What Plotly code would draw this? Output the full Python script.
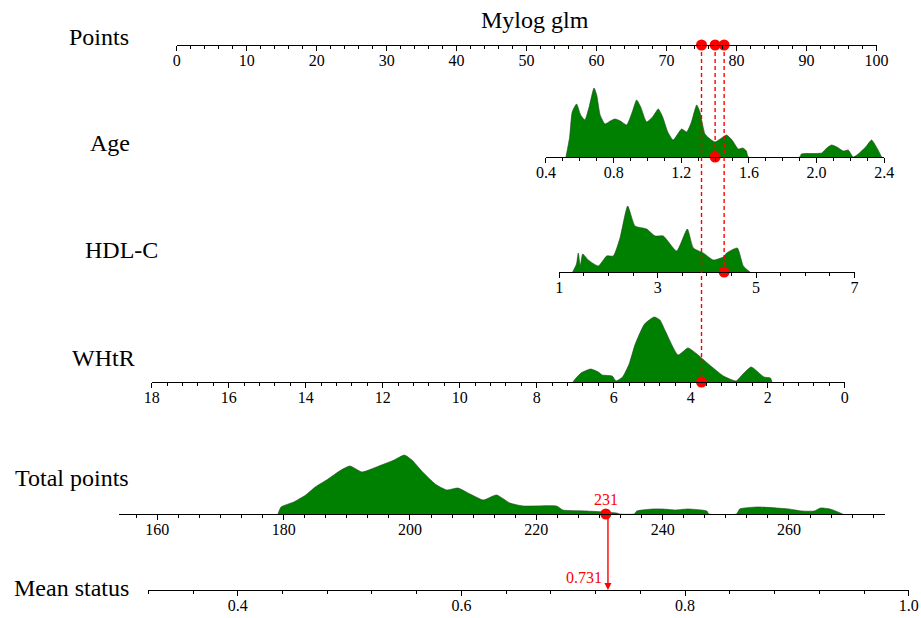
import plotly.graph_objects as go

# ---------------- data ----------------
title_text = "Mylog glm"
row_labels = ["Points", "Age", "HDL-C", "WHtR", "Total points", "Mean status"]

# nomogram scales: variable range <-> points range
points_range = [0, 100]
age_range = [0.4, 2.4];   age_points = [52.77, 101.11]
hdl_range = [1, 7];       hdl_points = [54.67, 96.86]
whtr_range = [18, 0];     whtr_points = [-3.57, 95.46]
total_range = [154.0, 275.2]
mean_range = [0.32, 1.0]

# densities (relative heights)
age_x = [0.518, 0.54, 0.555, 0.581, 0.605, 0.630, 0.655, 0.684, 0.70, 0.72, 0.749, 0.78, 0.808, 0.84,
         0.877, 0.91, 0.936, 0.96, 0.995, 1.03, 1.064, 1.09, 1.12, 1.152, 1.202, 1.232, 1.26, 1.291,
         1.31, 1.340, 1.37, 1.399, 1.43, 1.468, 1.50, 1.537, 1.564, 1.585, 1.596, 1.901, 1.91, 2.03,
         2.06, 2.088, 2.12, 2.157, 2.187, 2.216, 2.246, 2.29, 2.325, 2.36, 2.384]
age_d = [0, 20, 45, 53, 42, 37, 50, 69, 62, 42, 33, 36, 38, 36,
         32, 45, 57, 50, 35, 40, 48, 40, 25, 17, 28, 25, 35, 52,
         45, 23, 18, 15, 18, 22, 17, 8, 9, 6, 0, 0, 3, 4,
         9, 12, 10, 6, 7, 0, 3, 10, 17, 8, 0]

hdl_x = [1.272, 1.35, 1.386, 1.427, 1.476, 1.589, 1.793, 1.963, 2.098, 2.234, 2.390, 2.539, 2.776,
         2.945, 3.114, 3.386, 3.602, 3.724, 3.927, 4.130, 4.333, 4.402, 4.618, 4.740, 4.876]
hdl_d = [0, 8, 19, 6, 18, 12, 6, 16, 16, 34, 66, 46, 43,
         36, 36, 21, 43, 24, 19, 12, 15, 19, 24, 6, 0]

whtr_x = [7.06, 7.0, 6.85, 6.60, 6.40, 6.30, 6.04, 5.94, 5.77, 5.60, 5.45, 5.20, 4.95, 4.80, 4.66,
          4.33, 4.07, 3.81, 3.48, 3.15, 2.82, 2.69, 2.43, 2.10, 1.93, 1.89]
whtr_d = [0, 3, 9, 13, 10, 7, 6, 1, 5, 18, 37, 58, 65, 62, 51,
          27, 34, 27, 16, 6, 1, 6, 15, 5, 4, 0]

total_x = [179.1, 179.6, 181.6, 183.5, 185.0, 186.8, 189.1, 190.5, 192.4, 194.7, 197.5, 199.1, 200.3,
           202.0, 204.0, 205.8, 207.6, 209.5, 211.6, 213.7, 215.8, 217.9, 223.2, 224.2, 227.9, 232.7,
           233.2, 235.5, 235.9, 238.5, 240.0, 242.0, 244.0, 247.0, 247.3, 251.7, 252.2, 255.0, 258.0,
           260.0, 262.0, 264.0, 265.0, 266.5, 268.5]
total_d = [0, 7, 12, 19, 27, 34, 44, 48, 42, 47, 54, 59, 54,
           42, 30, 24, 26, 20, 14, 19, 11, 8, 8, 4, 3, 1,
           0, 0, 3, 5, 5, 4, 5, 3, 0, 0, 5, 7, 6,
           5, 3, 3, 6, 5, 0]

# patient values
age_val = 1.4
hdl_val = 4.35
whtr_val = 3.72
total_val = 231
mean_val = 0.731

# ---------------- layout helpers ----------------
W, H = 921, 618
PX0, PX1 = 176.7, 876.5   # pixel ends of Points axis (0 and 100)
FONT = "Liberation Serif"
RED = "#ff0000"
GREEN = "#008000"


def pts_px(p):
    return PX0 + (p - points_range[0]) / (points_range[1] - points_range[0]) * (PX1 - PX0)


def to_points(v, vr, pr):
    return pr[0] + (v - vr[0]) / (vr[1] - vr[0]) * (pr[1] - pr[0])


def ypaper(py):
    return 1 - py / H


rows = {
    1: dict(y=45, xl=pts_px(0), xr=pts_px(100), rng=points_range, dtick=10, tick0=0, minor=2, fmt=None),
    2: dict(y=157, xl=pts_px(age_points[0]), xr=pts_px(age_points[1]), rng=age_range, dtick=0.4, tick0=0.4, minor=0.1, fmt=".1f"),
    3: dict(y=272, xl=pts_px(hdl_points[0]), xr=pts_px(hdl_points[1]), rng=hdl_range, dtick=2, tick0=1, minor=0.5, fmt=None),
    4: dict(y=382, xl=pts_px(whtr_points[0]), xr=pts_px(whtr_points[1]), rng=whtr_range, dtick=2, tick0=0, minor=0.4, fmt=None),
    5: dict(y=514, xl=119.4, xr=885.0, rng=total_range, dtick=20, tick0=0, minor=20 / 6, fmt=None, mtick0=160),
    6: dict(y=590, xl=148.3, xr=908.8, rng=mean_range, dtick=0.2, tick0=0, minor=0.04, fmt=".1f"),
}
DENS_H = 75  # pixel height reserved for densities

fig = go.Figure()

layout = dict(width=W, height=H, margin=dict(l=0, r=0, t=0, b=0, pad=0, autoexpand=False),
              paper_bgcolor="white", plot_bgcolor="white", showlegend=False,
              font=dict(family=FONT, color="black"))

for i, r in rows.items():
    xs = "" if i == 1 else str(i)
    minor = dict(dtick=r["minor"], ticks="outside", ticklen=2.5, tickwidth=1, tickcolor="black", showgrid=False)
    if "mtick0" in r:
        minor["tick0"] = r["mtick0"]
    xa = dict(domain=[r["xl"] / W, r["xr"] / W], range=r["rng"], autorange=False, automargin=False,
              anchor="y" + xs, showline=True, linecolor="black", linewidth=1,
              ticks="outside", ticklen=5, tickwidth=1, tickcolor="black",
              dtick=r["dtick"], tick0=r["tick0"], minor=minor, ticklabelstandoff=-4,
              showgrid=False, zeroline=False, fixedrange=True,
              tickfont=dict(family=FONT, size=16, color="black"))
    if r["fmt"]:
        xa["tickformat"] = r["fmt"]
    yb = ypaper(r["y"])
    ya = dict(domain=[yb, min(1.0, yb + DENS_H / H)], range=[0, DENS_H], visible=False,
              anchor="x" + xs, fixedrange=True, automargin=False)
    layout["xaxis" + xs] = xa
    layout["yaxis" + xs] = ya

# densities
for i, (xv, dv) in zip([2, 3, 4, 5], [(age_x, age_d), (hdl_x, hdl_d), (whtr_x, whtr_d), (total_x, total_d)]):
    xs = str(i)
    fig.add_trace(go.Scatter(x=xv, y=dv, xaxis="x" + xs, yaxis="y" + xs, mode="lines",
                             fill="tozeroy", fillcolor=GREEN,
                             line=dict(color="rgba(40,70,40,0.9)", width=0.7, shape="spline", smoothing=0.5),
                             hoverinfo="skip"))

# points contributions
p_age = to_points(age_val, age_range, age_points)
p_hdl = to_points(hdl_val, hdl_range, hdl_points)
p_whtr = to_points(whtr_val, whtr_range, whtr_points)

# dashed connectors (points axis -> variable axis)
for i, val in [(4, whtr_val), (2, age_val), (3, hdl_val)]:
    fig.add_shape(type="line", xref="x" + str(i), yref="paper", x0=val, x1=val,
                  y0=ypaper(rows[1]["y"]), y1=ypaper(rows[i]["y"]),
                  line=dict(color=RED, width=1.4, dash="4px,3px"), layer="above")

mk = dict(color=RED, size=11)
fig.add_trace(go.Scatter(x=[p_whtr, p_age, p_hdl], y=[0, 0, 0], xaxis="x", yaxis="y", mode="markers",
                         marker=mk, cliponaxis=False, hoverinfo="skip"))
for i, val in [(2, age_val), (3, hdl_val), (4, whtr_val), (5, total_val)]:
    fig.add_trace(go.Scatter(x=[val], y=[0], xaxis="x" + str(i), yaxis="y" + str(i), mode="markers",
                             marker=mk, cliponaxis=False, hoverinfo="skip"))

annotations = []
annotations.append(dict(x=mean_val, y=0, xref="x6", yref="y6", text="", showarrow=True,
                        ax=0, ay=-(rows[6]["y"] - rows[5]["y"]), axref="pixel", ayref="pixel",
                        arrowhead=2, arrowsize=1, arrowwidth=1.4, arrowcolor=RED, standoff=0, startstandoff=0))
annotations.append(dict(x=total_val, y=0, xref="x5", yref="y5", text=str(total_val), showarrow=False,
                        yshift=15, font=dict(family=FONT, size=16, color=RED)))
annotations.append(dict(x=mean_val, y=0, xref="x6", yref="y6", text=f"{mean_val:.3f}", showarrow=False,
                        xanchor="right", xshift=-4, yshift=13, font=dict(family=FONT, size=16, color=RED)))

annotations.append(dict(x=535 / W, y=ypaper(20), xref="paper", yref="paper", text=title_text,
                        xanchor="center", yanchor="middle",
                        showarrow=False, font=dict(family=FONT, size=24, color="black")))

label_pos = [(67, 37), (88, 143), (83, 250), (70, 358), (13, 478), (12, 588)]
for lab, (lx, ly) in zip(row_labels, label_pos):
    annotations.append(dict(x=lx / W, y=ypaper(ly), xref="paper", yref="paper", text=lab,
                            xanchor="left", yanchor="middle", showarrow=False,
                            font=dict(family=FONT, size=24, color="black")))

layout["annotations"] = annotations
fig.update_layout(**layout)
fig.write_html("out.html", config={"displayModeBar": False},
               post_script="document.body.style.margin='0';")
